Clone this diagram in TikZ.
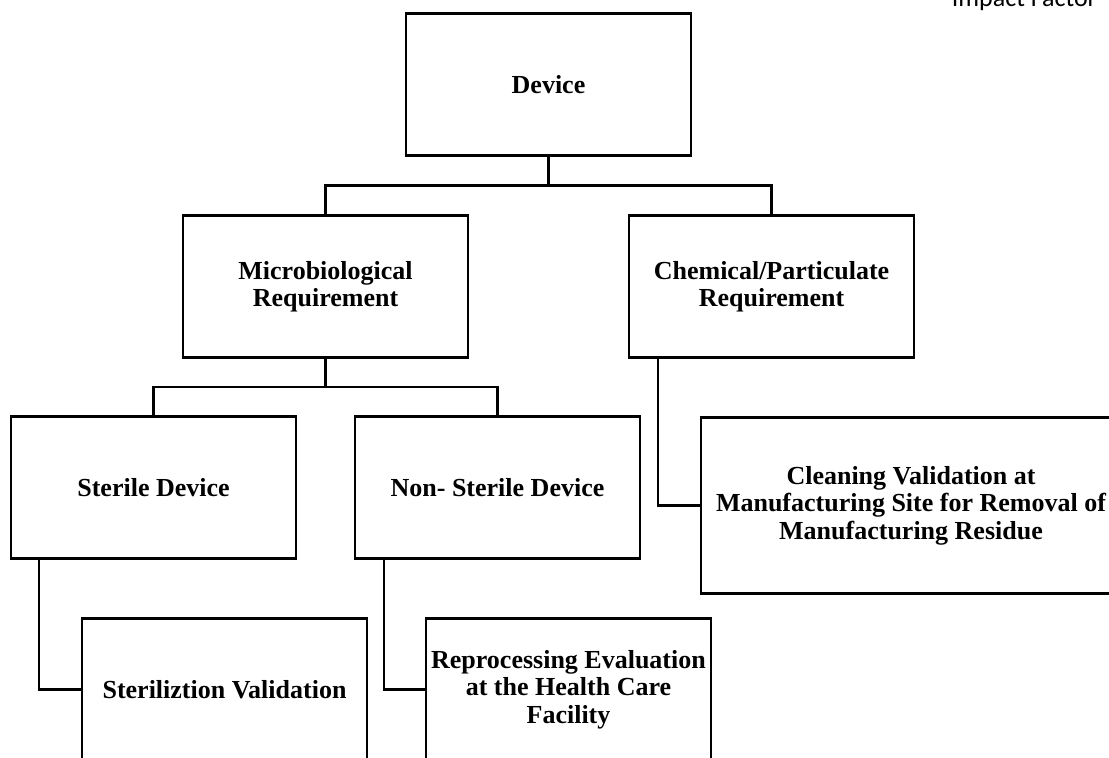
\documentclass[tikz,border=0pt]{standalone}
\usepackage{fontspec}
\setmainfont{Liberation Serif}
\newfontfamily\headerfont{Carlito}
\usetikzlibrary{positioning}

\begin{document}
\begin{tikzpicture}[
  x=1pt,y=-1pt,
  box/.style={draw,line width=2.8pt,outer sep=0pt,inner sep=2pt,align=center,minimum width=285pt,minimum height=142pt,font=\fontsize{26}{27.5}\selectfont\bfseries},
  link/.style={line width=2.8pt}]
\clip (0,0) rectangle (1109,758);
\node[anchor=base east,inner sep=0pt,font=\headerfont\fontsize{26}{28}\selectfont] (impact) at (1097,6) {Impact Factor};
\node[box] (dev) at (548.5,84.5) {Device};
\node[box,below=60pt of dev,xshift=-223pt] (micro) {Microbiological\\Requirement};
\node[box,below=60pt of dev,xshift=223pt] (chem) {Chemical/Particulate\\Requirement};
\node[box,below=59pt of micro,xshift=-172pt] (sterile) {Sterile Device};
\node[box,below=59pt of micro,xshift=172pt] (nonsterile) {Non- Sterile Device};
\node[box,minimum width=420pt,minimum height=176pt,below right=60pt and 72pt of chem.south west] (cleaning) {Cleaning Validation at\\Manufacturing Site for Removal of\\Manufacturing Residue};
\node[box,below right=60pt and 71pt of sterile.south west] (sterval) {Steriliztion Validation};
\node[box,below right=60pt and 71pt of nonsterile.south west] (reproc) {Reprocessing Evaluation\\at the Health Care\\Facility};
\draw[link] (dev.south) -- ++(0,-30pt) -| (micro.north);
\draw[link] (dev.south) -- ++(0,-30pt) -| (chem.north);
\draw[link] (micro.south) -- ++(0,-29.5pt) -| (sterile.north);
\draw[link] (micro.south) -- ++(0,-29.5pt) -| (nonsterile.north);
\draw[link] ([xshift=28pt]sterile.south west) |- (sterval.west);
\draw[link] ([xshift=29pt]nonsterile.south west) |- (reproc.west);
\draw[link] ([xshift=29pt]chem.south west) |- (cleaning.west);
\end{tikzpicture}
\end{document}
